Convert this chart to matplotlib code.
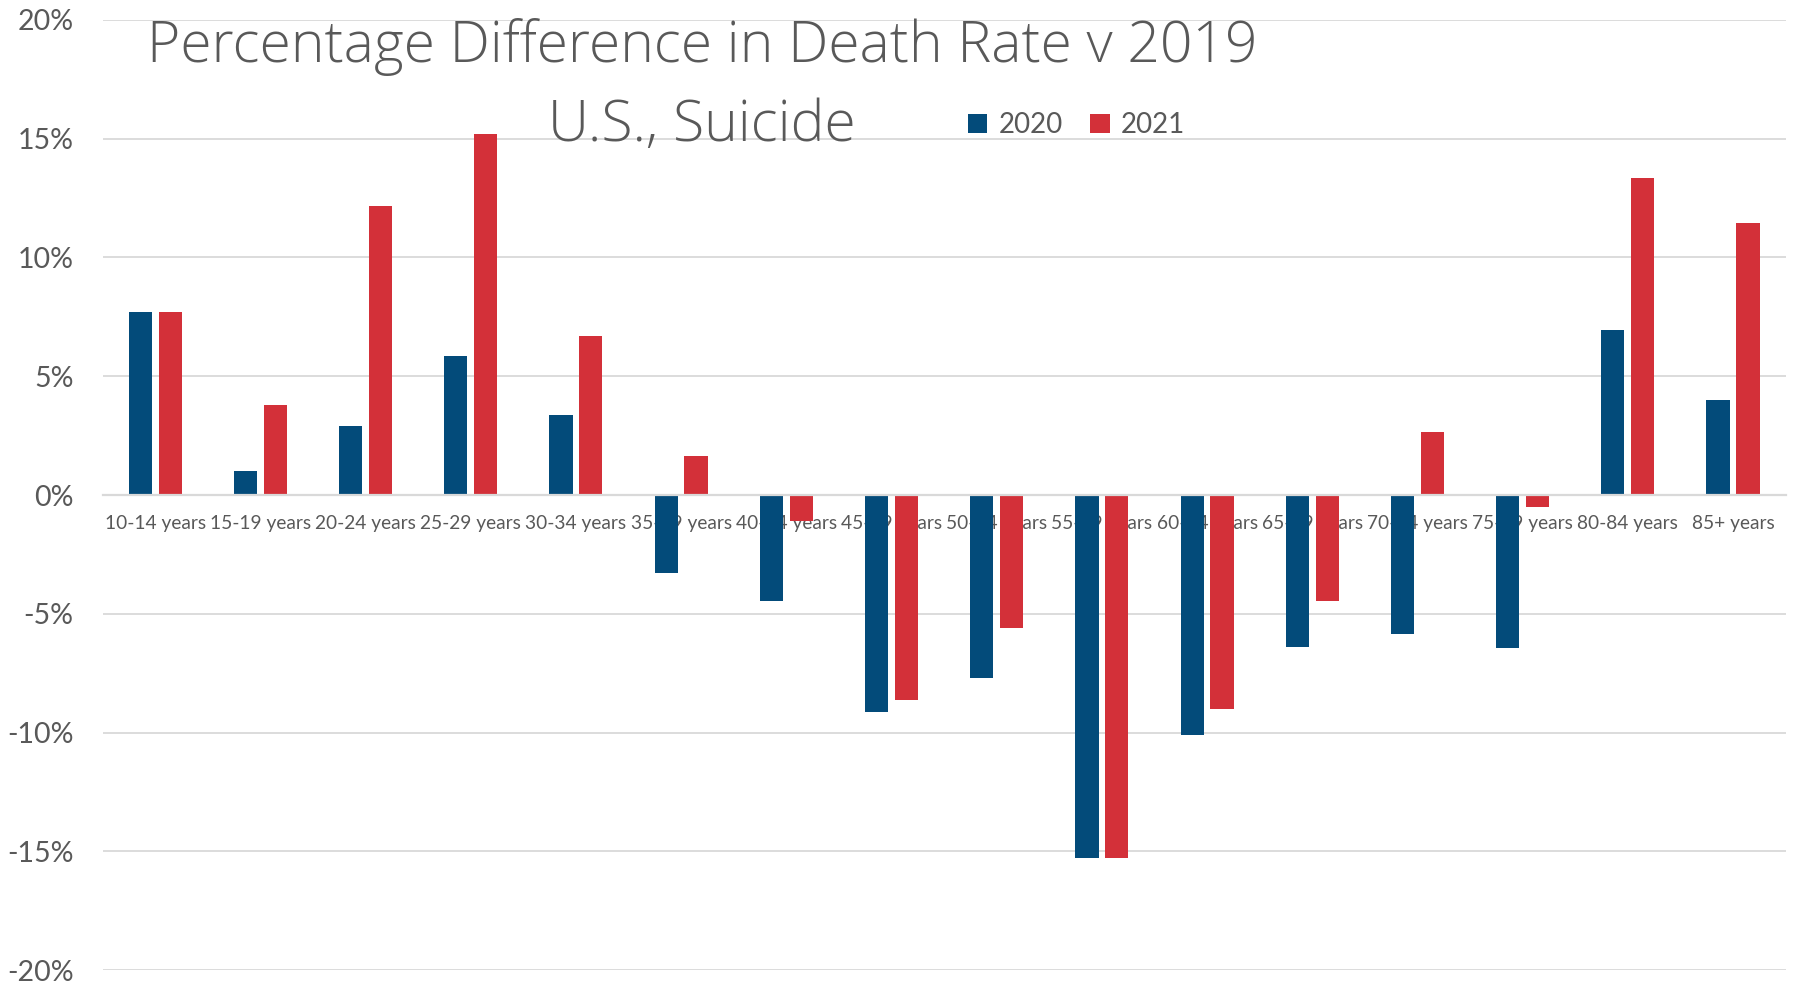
import numpy as np
import matplotlib
matplotlib.use("Agg")
from matplotlib import pyplot as plt
from matplotlib.ticker import FuncFormatter

plt.rcParams['font.family'] = ['Lato', 'DejaVu Sans']

ages = ["10-14 years", "15-19 years", "20-24 years", "25-29 years", "30-34 years",
        "35-39 years", "40-44 years", "45-49 years", "50-54 years", "55-59 years",
        "60-64 years", "65-69 years", "70-74 years", "75-79 years", "80-84 years",
        "85+ years"]
pct_2020 = [7.7, 1.0, 2.9, 5.85, 3.35, -3.3, -4.45, -9.15, -7.7, -15.3,
            -10.1, -6.4, -5.85, -6.45, 6.95, 4.0]
pct_2021 = [7.7, 3.8, 12.15, 15.2, 6.7, 1.65, -1.1, -8.65, -5.6, -15.3,
            -9.0, -4.45, 2.65, -0.5, 13.35, 11.45]

blue = "#034B7A"
red = "#D33039"
grey = "#595959"

fig = plt.figure(figsize=(18, 9.84), dpi=100)
ax = fig.add_axes([0.057, 0.0142, 0.935, 0.9655])

x = np.arange(len(ages))
w = 0.22
ax.bar(x - 0.142, pct_2020, w, color=blue, label="2020", zorder=3)
ax.bar(x + 0.142, pct_2021, w, color=red, label="2021", zorder=3)

ax.set_xlim(-0.5, len(ages) - 0.5)
ax.set_ylim(-20, 20)
ax.set_yticks(np.arange(-20, 21, 5))
ax.yaxis.set_major_formatter(FuncFormatter(lambda v, p: "%d%%" % v))
ax.grid(axis='y', color="#D9D9D9", linewidth=1.3, zorder=0)

for s in ['top', 'right', 'left']:
    ax.spines[s].set_visible(False)
ax.spines['bottom'].set_position(('data', 0))
ax.spines['bottom'].set_color("#D9D9D9")
ax.spines['bottom'].set_linewidth(1.6)
ax.spines['bottom'].set_zorder(4)

ax.set_xticks(x)
ax.set_xticklabels(ages, fontsize=13.8, color=grey)
ax.tick_params(axis='x', length=0, pad=14.5)
ax.tick_params(axis='y', length=0, pad=21, labelsize=20.5, labelcolor=grey)

title_font = dict(family=['Open Sans', 'DejaVu Sans'], fontweight='light')
fig.text(0.39, 0.952, "Percentage Difference in Death Rate v 2019", fontsize=41,
         color=grey, ha='center', va='center', **title_font)
fig.text(0.39, 0.872, "U.S., Suicide", fontsize=41, color=grey,
         ha='center', va='center', **title_font)

leg = ax.legend(loc='center', bbox_to_anchor=(0.598, 0.873), bbox_transform=fig.transFigure,
                ncol=2, frameon=False, fontsize=20, handlelength=0.7, handleheight=0.7,
                handletextpad=0.4, columnspacing=1.0)
for t in leg.get_texts():
    t.set_color(grey)

fig.savefig("out.png", dpi=100)
